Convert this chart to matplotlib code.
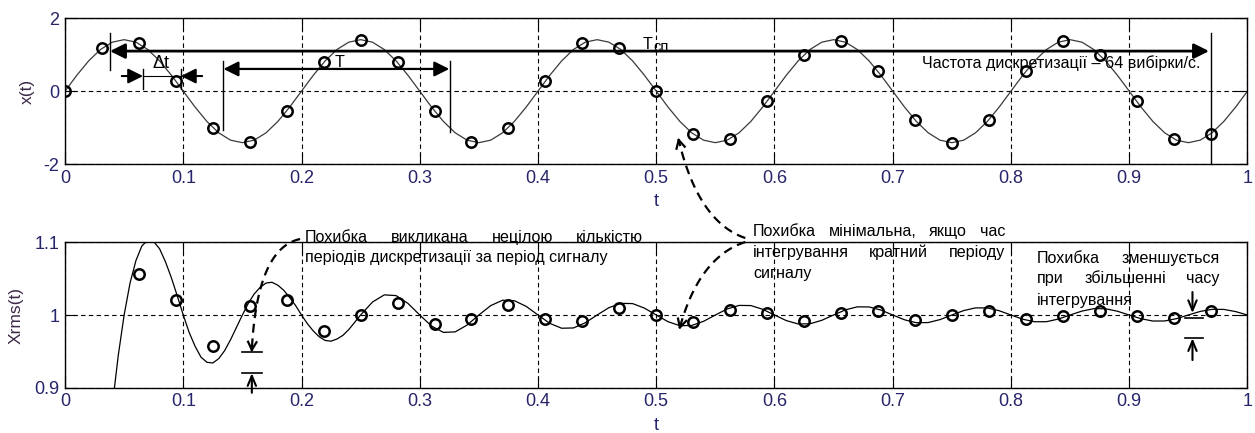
import numpy as np
import matplotlib
matplotlib.use("Agg")
import matplotlib.pyplot as plt
from matplotlib.lines import Line2D
from matplotlib.transforms import IdentityTransform

plt.rcParams['font.family'] = ['Liberation Sans', 'DejaVu Sans']

# ---- data -------------------------------------------------------------
# continuous signal x(t), one value every 0.01 s from 0 to 1
signal_curve = [
    0.000, 0.437, 0.831, 1.144, 1.345, 1.414, 1.345, 1.144, 0.831, 0.437,
    0.000, -0.437, -0.831, -1.144, -1.345, -1.414, -1.345, -1.144, -0.831, -0.437,
    0.000, 0.437, 0.831, 1.144, 1.345, 1.414, 1.345, 1.144, 0.831, 0.437,
    0.000, -0.437, -0.831, -1.144, -1.345, -1.414, -1.345, -1.144, -0.831, -0.437,
    0.000, 0.437, 0.831, 1.144, 1.345, 1.414, 1.345, 1.144, 0.831, 0.437,
    0.000, -0.437, -0.831, -1.144, -1.345, -1.414, -1.345, -1.144, -0.831, -0.437,
    0.000, 0.437, 0.831, 1.144, 1.345, 1.414, 1.345, 1.144, 0.831, 0.437,
    0.000, -0.437, -0.831, -1.144, -1.345, -1.414, -1.345, -1.144, -0.831, -0.437,
    0.000, 0.437, 0.831, 1.144, 1.345, 1.414, 1.345, 1.144, 0.831, 0.437,
    0.000, -0.437, -0.831, -1.144, -1.345, -1.414, -1.345, -1.144, -0.831, -0.437,
    0.000,
]

# sampled values of x(t), one every 1/32 s starting at t = 0
sample_step = 1 / 32
signal_samples = [
    0.00, 1.18, 1.31, 0.28, -1.00, -1.39, -0.54, 0.79,
    1.41, 0.79, -0.54, -1.39, -1.00, 0.28, 1.31, 1.18,
    0.00, -1.18, -1.31, -0.28, 1.00, 1.39, 0.54, -0.79,
    -1.41, -0.79, 0.54, 1.39, 1.00, -0.28, -1.31, -1.18,
]

# running RMS of the continuous signal:
# every 0.005 s up to t = 0.25, then every 0.01 s up to t = 1
rms_curve_fine = [
    0.000, 0.128, 0.254, 0.376, 0.493, 0.603, 0.704, 0.795, 0.875, 0.944,
    1.000, 1.044, 1.075, 1.095, 1.103, 1.101, 1.091, 1.073, 1.051, 1.026,
    1.000, 0.976, 0.957, 0.942, 0.935, 0.934, 0.940, 0.951, 0.966, 0.983,
    1.000, 1.016, 1.029, 1.038, 1.044, 1.045, 1.041, 1.034, 1.024, 1.013,
    1.000, 0.988, 0.978, 0.970, 0.965, 0.964, 0.967, 0.972, 0.980, 0.990,
    1.000,
]
rms_curve_coarse = [
    1.0178, 1.0277, 1.0267, 1.0160, 1.0000, 0.9848, 0.9761, 0.9768, 0.9861, 1.0000,
    1.0129, 1.0203, 1.0197, 1.0119, 1.0000, 0.9885, 0.9818, 0.9822, 0.9893, 1.0000,
    1.0101, 1.0160, 1.0157, 1.0095, 1.0000, 0.9908, 0.9853, 0.9856, 0.9913, 1.0000,
    1.0083, 1.0132, 1.0130, 1.0079, 1.0000, 0.9923, 0.9877, 0.9879, 0.9927, 1.0000,
    1.0071, 1.0112, 1.0111, 1.0068, 1.0000, 0.9934, 0.9894, 0.9896, 0.9937, 1.0000,
    1.0061, 1.0098, 1.0097, 1.0059, 1.0000, 0.9942, 0.9907, 0.9908, 0.9944, 1.0000,
    1.0054, 1.0087, 1.0086, 1.0052, 1.0000, 0.9949, 0.9917, 0.9918, 0.9950, 1.0000,
    1.0049, 1.0078, 1.0077, 1.0047, 1.0000,
]

# running RMS estimated from the samples (from the third sample on)
rms_samples = [
    1.057, 1.021, 0.957, 1.013, 1.020, 0.978, 1.000, 1.017, 0.988, 0.994,
    1.014, 0.995, 0.992, 1.010, 1.000, 0.991, 1.007, 1.003, 0.992, 1.003,
    1.005, 0.993, 1.000, 1.006, 0.995, 0.998, 1.006, 0.998, 0.996, 1.005,
]

x_ticks = [0, 0.1, 0.2, 0.3, 0.4, 0.5, 0.6, 0.7, 0.8, 0.9, 1]
x_ticklabels = ['0', '0.1', '0.2', '0.3', '0.4', '0.5', '0.6', '0.7', '0.8', '0.9', '1']
top_yticks = [-2, 0, 2]
top_yticklabels = ['-2', '0', '2']
bot_yticks = [0.9, 1.0, 1.1]
bot_yticklabels = ['0.9', '1', '1.1']

# ---- time axes ----------------------------------------------------------
t_curve = np.linspace(0, 1, len(signal_curve))
t_samples = np.arange(len(signal_samples)) * sample_step
t_rms = np.concatenate([np.linspace(0, 0.25, len(rms_curve_fine)),
                        np.linspace(0.26, 1.0, len(rms_curve_coarse))])
rms_curve = rms_curve_fine + rms_curve_coarse
t_rms_samples = t_samples[len(t_samples) - len(rms_samples):]

TICK_COLOR = '#26246a'
LABEL_COLOR = '#3c2a48'
TEXT_FS = 11.6
TICK_FS = 13

fig = plt.figure(figsize=(12.55, 4.33), dpi=100)
ax1 = fig.add_axes([0.0518, 0.6212, 0.9422, 0.3365])
ax2 = fig.add_axes([0.0518, 0.1046, 0.9422, 0.3358])


def style_axes(ax, yticks, yticklabels):
    ax.set_xlim(0, 1)
    ax.set_xticks(x_ticks)
    ax.set_xticklabels(x_ticklabels)
    ax.set_yticks(yticks)
    ax.set_yticklabels(yticklabels)
    ax.tick_params(direction='in', length=8.5, width=0.8, top=True, right=True,
                   labelsize=TICK_FS, labelcolor=TICK_COLOR, pad=4)
    ax.grid(True, color='k', linestyle=(0, (4, 3)), linewidth=0.8)
    for s in ax.spines.values():
        s.set_linewidth(1.0)
        s.set_color('k')
    ax.text(0.5, -0.26, 't', transform=ax.transAxes, ha='center', va='center',
            fontsize=TICK_FS, color=TICK_COLOR)


# ---- upper panel: signal and its samples --------------------------------
ax1.plot(t_curve, signal_curve, color='#3a3a3a', lw=0.9)
ax1.plot(t_samples, signal_samples, 'o', mfc='none', mec='k', ms=7.5, mew=1.8)
ax1.set_ylim(-2, 2)
style_axes(ax1, top_yticks, top_yticklabels)
ax1.text(-0.032, 0.5, 'x(t)', transform=ax1.transAxes, rotation=90,
         ha='center', va='center', fontsize=12.5, color=LABEL_COLOR)

# ---- lower panel: running RMS --------------------------------------------
ax2.plot(t_rms, rms_curve, color='k', lw=0.9)
ax2.plot(t_rms_samples, rms_samples, 'o', mfc='none', mec='k', ms=7.5, mew=1.8)
ax2.set_ylim(0.9, 1.1)
style_axes(ax2, bot_yticks, bot_yticklabels)
ax2.text(-0.0414, 0.5, 'Xrms(t)', transform=ax2.transAxes, rotation=90,
         ha='center', va='center', fontsize=12.5, color=LABEL_COLOR)


# ---- helpers for annotations -----------------------------------------------
def arrow(ax, tail, tip, style='-|>', lw=1.5, scale=15, hl=0.6, hw=0.3):
    ax.annotate('', xy=tip, xytext=tail, annotation_clip=False,
                arrowprops=dict(arrowstyle=f'{style},head_length={hl},head_width={hw}',
                                lw=lw, color='k', shrinkA=0, shrinkB=0,
                                mutation_scale=scale))


def seg(ax, x, y, lw=1.0):
    ax.add_line(Line2D(x, y, color='k', lw=lw, clip_on=False))


def dashed_curve(p0, ctrl, tip, head=9, angle=28):
    """Quadratic Bezier in display space, dashed, with an open arrow head."""
    p0, ctrl, tip = map(np.asarray, (p0, ctrl, tip))
    s = np.linspace(0, 1, 80)[:, None]
    pts = (1 - s) ** 2 * p0 + 2 * (1 - s) * s * ctrl + s ** 2 * tip
    fig.add_artist(Line2D(pts[:, 0], pts[:, 1], transform=IdentityTransform(),
                          color='k', lw=1.6, linestyle=(0, (4, 2.6))))
    d = tip - pts[-4]
    d = d / np.hypot(*d)
    for a in (np.radians(angle), -np.radians(angle)):
        r = np.array([[np.cos(a), -np.sin(a)], [np.sin(a), np.cos(a)]])
        back = tip - head * (r @ d)
        fig.add_artist(Line2D([tip[0], back[0]], [tip[1], back[1]],
                              transform=IdentityTransform(), color='k', lw=1.6))


renderer = fig.canvas.get_renderer()


def text_block(ax, lines, x0, x1, baselines, justify):
    X0 = ax.transData.transform((x0, 0))[0]
    X1 = ax.transData.transform((x1, 0))[0]
    inv = ax.transData.inverted()
    for line, yb, just in zip(lines, baselines, justify):
        if not just:
            ax.text(x0, yb, line, ha='left', va='baseline', fontsize=TEXT_FS,
                    clip_on=False)
            continue
        words = line.split()
        arts = [ax.text(0, yb, w, ha='left', va='baseline', fontsize=TEXT_FS,
                        clip_on=False) for w in words]
        widths = [a.get_window_extent(renderer).width for a in arts]
        gap = (X1 - X0 - sum(widths)) / (len(words) - 1)
        pos = X0
        for a, w in zip(arts, widths):
            a.set_x(inv.transform((pos, 0))[0])
            pos += w + gap


# upper panel markings
arrow(ax1, (0.5, 1.10), (0.038, 1.10), lw=2.0)
arrow(ax1, (0.5, 1.10), (0.9675, 1.10), lw=2.0)
seg(ax1, [0.038, 0.038], [1.60, 0.58])
seg(ax1, [31 / 32, 31 / 32], [1.60, -2.0])
ax1.text(0.4888, 1.157, 'T', fontsize=TEXT_FS, va='baseline')
ax1.text(0.4978, 1.10, 'сп', fontsize=TEXT_FS - 1, va='baseline')

arrow(ax1, (0.23, 0.61), (0.134, 0.61), lw=1.6)
arrow(ax1, (0.23, 0.61), (0.325, 0.61), lw=1.6)
seg(ax1, [0.134, 0.134], [0.83, -1.07])
seg(ax1, [0.326, 0.326], [0.83, -1.12])
ax1.text(0.2283, 0.663, 'T', fontsize=TEXT_FS, va='baseline')

arrow(ax1, (0.048, 0.415), (0.066, 0.415), lw=1.5)
arrow(ax1, (0.116, 0.415), (0.098, 0.415), lw=1.5)
seg(ax1, [0.066, 0.098], [0.415, 0.415], lw=0.8)
seg(ax1, [0.066, 0.066], [0.61, 0.06])
seg(ax1, [0.098, 0.098], [0.61, 0.06])
ax1.text(0.0736, 0.636, 'Δt', fontsize=13, va='baseline')

ax1.text(0.7247, 0.636, 'Частота дискретизації – 64 вибірки/с.',
         fontsize=TEXT_FS, va='baseline')

# lower panel markings
seg(ax2, [0.150, 0.167], [0.949, 0.949], lw=1.2)
seg(ax2, [0.150, 0.167], [0.920, 0.920], lw=1.2)
arrow(ax2, (0.158, 0.893), (0.158, 0.920), style='->', lw=1.5, scale=12, hl=0.6, hw=0.25)
seg(ax2, [0.9475, 0.962], [0.996, 0.996], lw=1.2)
seg(ax2, [0.9475, 0.962], [0.968, 0.968], lw=1.2)
arrow(ax2, (0.9535, 1.0316), (0.9535, 1.0027), style='->', lw=1.5, scale=12, hl=0.6, hw=0.25)
arrow(ax2, (0.9535, 0.938), (0.9535, 0.968), style='->', lw=1.5, scale=12, hl=0.6, hw=0.25)

text_block(ax2, ['Похибка викликана нецілою кількістю',
                 'періодів дискретизації за період сигналу'],
           0.2030, 0.4890, [1.1004, 1.0729], [True, False])
text_block(ax2, ['Похибка мінімальна, якщо час',
                 'інтегрування кратний періоду',
                 'сигналу'],
           0.5818, 0.7949, [1.1087, 1.0798, 1.0509], [True, True, False])
text_block(ax2, ['Похибка зменшується',
                 'при збільшенні часу',
                 'інтегрування'],
           0.8220, 0.9767, [1.0715, 1.0440, 1.0138], [True, True, False])

d2 = ax2.transData.transform
d1 = ax1.transData.transform
dashed_curve(d2((0.1988, 1.1045)), d2((0.1624, 1.0922)), d2((0.158, 0.952)))
dashed_curve(d2((0.5753, 1.1059)), d2((0.5355, 1.1279)), d1((0.519, -1.34)))
dashed_curve(d2((0.5753, 1.1004)), d2((0.5364, 1.0798)), d2((0.520, 0.983)))

fig.savefig('out.png', dpi=100)
